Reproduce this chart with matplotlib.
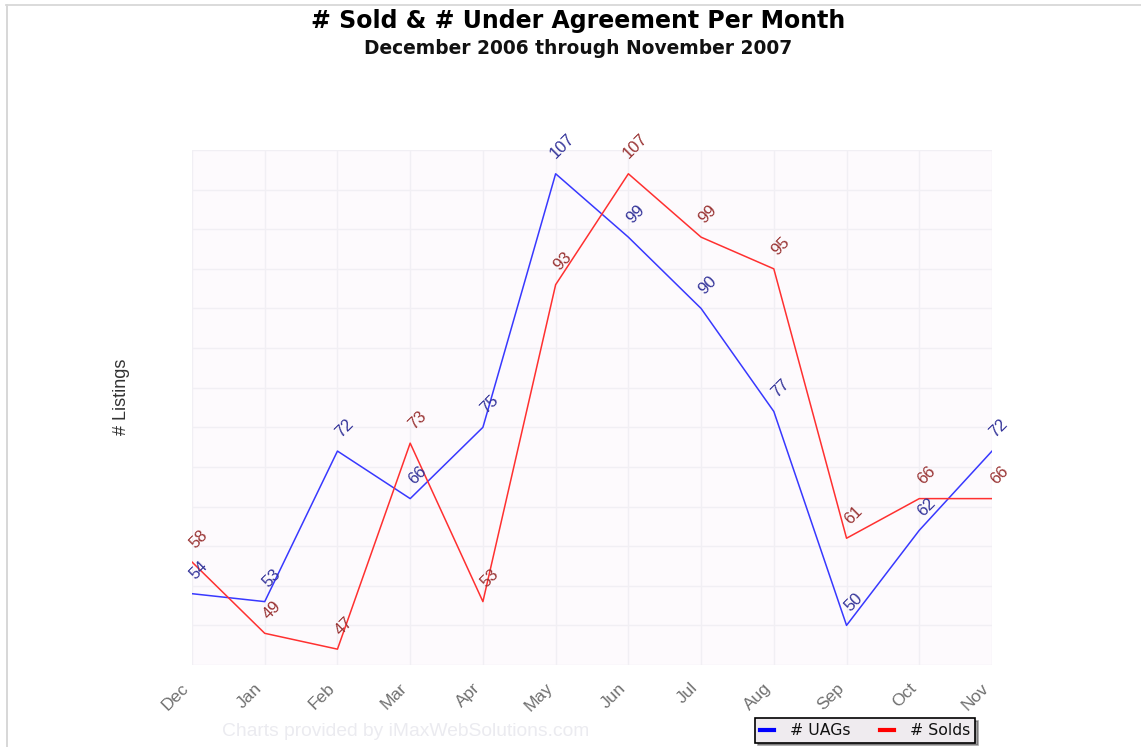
import matplotlib
matplotlib.use("Agg")
import matplotlib.pyplot as plt
from matplotlib.lines import Line2D

months = ["Dec", "Jan", "Feb", "Mar", "Apr", "May", "Jun", "Jul", "Aug", "Sep", "Oct", "Nov"]
uags = [54, 53, 72, 66, 75, 107, 99, 90, 77, 50, 62, 72]
solds = [58, 49, 47, 73, 53, 93, 107, 99, 95, 61, 66, 66]

plt.rcParams['font.family'] = ['Liberation Sans', 'DejaVu Sans']

W, H = 1141, 747
fig = plt.figure(figsize=(W / 100, H / 100), dpi=100)
fig.patch.set_facecolor('white')

ax = fig.add_axes([192 / W, 1 - 665 / H, (992 - 192) / W, (665 - 150) / H])
ax.set_facecolor('#fdfafd')
x = list(range(len(months)))
ax.set_xlim(0, len(months) - 1)
ax.set_ylim(45, 110)
ax.set_yticks(range(45, 111, 5))
ax.set_xticks(x)
ax.grid(True, color='#f1eff4', linewidth=1)
ax.set_axisbelow(True)
for s in ax.spines.values():
    s.set_visible(False)
ax.tick_params(axis='both', length=0)
ax.set_yticklabels([])
ax.set_xticklabels(months, rotation=45, ha='right', va='top', rotation_mode='default',
                   color='#707070', fontsize=12.5)
ax.tick_params(axis='x', pad=11)

ax.plot(x, uags, color='#3838ff', linewidth=1.1, label='# UAGs')
ax.plot(x, solds, color='#ff3030', linewidth=1.1, label='# Solds')


def label(xi, v, color):
    s = str(v)
    dy = 23 + 5 * (len(s) - 2)
    ax.annotate(s, (xi, v), xytext=(7, dy), textcoords='offset pixels',
                rotation=45, rotation_mode='anchor', ha='center', va='center',
                color=color, fontsize=12)


for xi, v in zip(x, uags):
    label(xi, v, '#333399')
for xi, v in zip(x, solds):
    label(xi, v, '#993333')

ax.set_ylabel('# Listings', fontsize=13, color='#333333')
ax.yaxis.set_label_coords((130 - 192) / (992 - 192), (665 - 397) / (665 - 150))

fig.text(578.5 / W, 1 - 21 / H, '# Sold & # Under Agreement Per Month', ha='center', va='center',
         fontsize=17, fontweight='bold', color='black', family='DejaVu Sans')
fig.text(578 / W, 1 - 48 / H, 'December 2006 through November 2007', ha='center', va='center',
         fontsize=13.4, fontweight='bold', color='#111111', family='DejaVu Sans')

fig.text(222 / W, 1 - 731 / H, 'Charts provided by iMaxWebSolutions.com', ha='left', va='center',
         fontsize=13.9, color='#ebebf0')

# border lines
fig.add_artist(Line2D([6.5 / W, 6.5 / W], [0, 1 - 5 / H], transform=fig.transFigure, color='#d4d4d4', linewidth=1.3))
fig.add_artist(Line2D([6 / W, 1], [1 - 5 / H, 1 - 5 / H], transform=fig.transFigure, color='#d8d8d8', linewidth=1.3))

handles = [Line2D([], [], color='#0000ff', linewidth=3), Line2D([], [], color='#ff0000', linewidth=3)]
leg = fig.legend(handles, ['# UAGs', '# Solds'], ncol=2, loc='center',
                 bbox_to_anchor=(865 / W, 1 - 730.5 / H), frameon=True, fancybox=False, shadow=True,
                 handlelength=0.9, handletextpad=1.0, columnspacing=1.9,
                 borderpad=0.3, edgecolor='black', facecolor='#efebef', framealpha=1,
                 prop={'family': 'DejaVu Sans', 'size': 11.3})
leg.get_frame().set_linewidth(1.2)
for t in leg.get_texts():
    t.set_color('#111111')

fig.savefig('out.png', dpi=100)
